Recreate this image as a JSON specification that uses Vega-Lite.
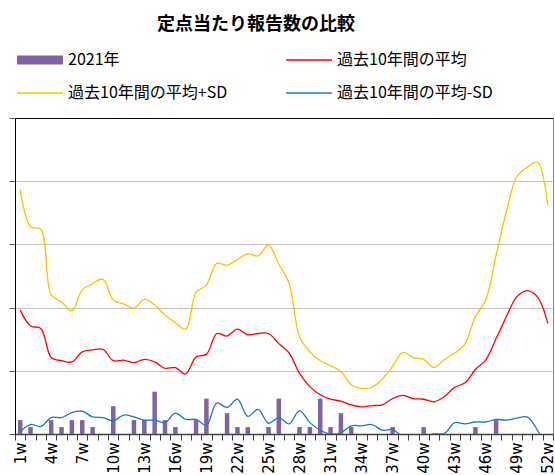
{
  "$schema": "https://vega.github.io/schema/vega-lite/v6.json",
  "width": 538,
  "height": 316,
  "autosize": "none",
  "padding": {"left": 15, "top": 118, "right": 2, "bottom": 41},
  "background": "white",
  "title": {"text": "定点当たり報告数の比較", "font": "Noto Sans CJK JP", "fontSize": 18, "fontWeight": "bold", "color": "#000000", "anchor": "middle", "dx": -28, "offset": 9},
  "config": {
    "view": {"stroke": "#8C8C8C", "strokeWidth": 1},
    "axis": {"labelFont": "DejaVu Sans", "labelColor": "#000000"},
    "legend": {
      "orient": "none", "legendX": 8, "legendY": -75, "columns": 2, "direction": "horizontal",
      "symbolSize": 1156, "symbolStrokeWidth": 0,
      "labelFont": "Noto Sans CJK JP", "labelFontSize": 16, "labelColor": "#000000", "labelOffset": 11,
      "columnPadding": 58, "rowPadding": 8, "padding": 0,
      "labelLimit": 400
    }
  },
  "data": {"values": [
    {"w": "1w", "2021年": 0.22, "過去10年間の平均": 1.96, "過去10年間の平均+SD": 3.87, "過去10年間の平均-SD": 0.04},
    {"w": "2w", "2021年": 0.11, "過去10年間の平均": 1.71, "過去10年間の平均+SD": 3.28, "過去10年間の平均-SD": 0.15},
    {"w": "3w", "2021年": null, "過去10年間の平均": 1.67, "過去10年間の平均+SD": 3.24, "過去10年間の平均-SD": 0.12},
    {"w": "4w", "2021年": 0.22, "過去10年間の平均": 1.21, "過去10年間の平均+SD": 2.20, "過去10年間の平均-SD": 0.26},
    {"w": "5w", "2021年": 0.11, "過去10年間の平均": 1.16, "過去10年間の平均+SD": 2.09, "過去10年間の平均-SD": 0.26},
    {"w": "6w", "2021年": 0.22, "過去10年間の平均": 1.14, "過去10年間の平均+SD": 1.95, "過去10年間の平均-SD": 0.34},
    {"w": "7w", "2021年": 0.22, "過去10年間の平均": 1.30, "過去10年間の平均+SD": 2.28, "過去10年間の平均-SD": 0.36},
    {"w": "8w", "2021年": 0.11, "過去10年間の平均": 1.33, "過去10年間の平均+SD": 2.38, "過去10年間の平均-SD": 0.27},
    {"w": "9w", "2021年": null, "過去10年間の平均": 1.34, "過去10年間の平均+SD": 2.45, "過去10年間の平均-SD": 0.26},
    {"w": "10w", "2021年": 0.44, "過去10年間の平均": 1.16, "過去10年間の平均+SD": 2.12, "過去10年間の平均-SD": 0.21},
    {"w": "11w", "2021年": null, "過去10年間の平均": 1.17, "過去10年間の平均+SD": 2.06, "過去10年間の平均-SD": 0.30},
    {"w": "12w", "2021年": 0.22, "過去10年間の平均": 1.13, "過去10年間の平均+SD": 1.99, "過去10年間の平均-SD": 0.27},
    {"w": "13w", "2021年": 0.22, "過去10年間の平均": 1.18, "過去10年間の平均+SD": 2.13, "過去10年間の平均-SD": 0.22},
    {"w": "14w", "2021年": 0.67, "過去10年間の平均": 1.14, "過去10年間の平均+SD": 2.04, "過去10年間の平均-SD": 0.22},
    {"w": "15w", "2021年": 0.22, "過去10年間の平均": 1.04, "過去10年間の平均+SD": 1.88, "過去10年間の平均-SD": 0.18},
    {"w": "16w", "2021年": 0.11, "過去10年間の平均": 1.05, "過去10年間の平均+SD": 1.76, "過去10年間の平均-SD": 0.33},
    {"w": "17w", "2021年": null, "過去10年間の平均": 0.95, "過去10年間の平均+SD": 1.66, "過去10年間の平均-SD": 0.23},
    {"w": "18w", "2021年": 0.22, "過去10年間の平均": 1.22, "過去10年間の平均+SD": 2.24, "過去10年間の平均-SD": 0.23},
    {"w": "19w", "2021年": 0.56, "過去10年間の平均": 1.26, "過去10年間の平均+SD": 2.36, "過去10年間の平均-SD": 0.14},
    {"w": "20w", "2021年": null, "過去10年間の平均": 1.59, "過去10年間の平均+SD": 2.70, "過去10年間の平均-SD": 0.49},
    {"w": "21w", "2021年": 0.33, "過去10年間の平均": 1.55, "過去10年間の平均+SD": 2.67, "過去10年間の平均-SD": 0.42},
    {"w": "22w", "2021年": 0.11, "過去10年間の平均": 1.66, "過去10年間の平均+SD": 2.76, "過去10年間の平均-SD": 0.55},
    {"w": "23w", "2021年": 0.11, "過去10年間の平均": 1.57, "過去10年間の平均+SD": 2.85, "過去10年間の平均-SD": 0.28},
    {"w": "24w", "2021年": null, "過去10年間の平均": 1.59, "過去10年間の平均+SD": 2.82, "過去10年間の平均-SD": 0.39},
    {"w": "25w", "2021年": 0.11, "過去10年間の平均": 1.59, "過去10年間の平均+SD": 2.99, "過去10年間の平均-SD": 0.17},
    {"w": "26w", "2021年": 0.56, "過去10年間の平均": 1.43, "過去10年間の平均+SD": 2.69, "過去10年間の平均-SD": 0.26},
    {"w": "27w", "2021年": null, "過去10年間の平均": 1.28, "過去10年間の平均+SD": 2.38, "過去10年間の平均-SD": 0.16},
    {"w": "28w", "2021年": 0.11, "過去10年間の平均": 0.96, "過去10年間の平均+SD": 1.54, "過去10年間の平均-SD": 0.37},
    {"w": "29w", "2021年": 0.11, "過去10年間の平均": 0.75, "過去10年間の平均+SD": 1.30, "過去10年間の平均-SD": 0.18},
    {"w": "30w", "2021年": 0.56, "過去10年間の平均": 0.62, "過去10年間の平均+SD": 1.16, "過去10年間の平均-SD": 0.06},
    {"w": "31w", "2021年": 0.11, "過去10年間の平均": 0.55, "過去10年間の平均+SD": 1.08, "過去10年間の平均-SD": 0.00},
    {"w": "32w", "2021年": 0.33, "過去10年間の平均": 0.52, "過去10年間の平均+SD": 0.99, "過去10年間の平均-SD": 0.02},
    {"w": "33w", "2021年": 0.11, "過去10年間の平均": 0.46, "過去10年間の平均+SD": 0.78, "過去10年間の平均-SD": 0.13},
    {"w": "34w", "2021年": null, "過去10年間の平均": 0.43, "過去10年間の平均+SD": 0.72, "過去10年間の平均-SD": 0.13},
    {"w": "35w", "2021年": null, "過去10年間の平均": 0.45, "過去10年間の平均+SD": 0.74, "過去10年間の平均-SD": 0.15},
    {"w": "36w", "2021年": null, "過去10年間の平均": 0.46, "過去10年間の平均+SD": 0.87, "過去10年間の平均-SD": 0.06},
    {"w": "37w", "2021年": 0.11, "過去10年間の平均": 0.56, "過去10年間の平均+SD": 1.07, "過去10年間の平均-SD": 0.07},
    {"w": "38w", "2021年": null, "過去10年間の平均": 0.61, "過去10年間の平均+SD": 1.29, "過去10年間の平均-SD": -0.04},
    {"w": "39w", "2021年": null, "過去10年間の平均": 0.56, "過去10年間の平均+SD": 1.21, "過去10年間の平均-SD": -0.03},
    {"w": "40w", "2021年": 0.11, "過去10年間の平均": 0.55, "過去10年間の平均+SD": 1.18, "過去10年間の平均-SD": -0.03},
    {"w": "41w", "2021年": null, "過去10年間の平均": 0.51, "過去10年間の平均+SD": 1.05, "過去10年間の平均-SD": 0.00},
    {"w": "42w", "2021年": null, "過去10年間の平均": 0.59, "過去10年間の平均+SD": 1.18, "過去10年間の平均-SD": 0.01},
    {"w": "43w", "2021年": null, "過去10年間の平均": 0.74, "過去10年間の平均+SD": 1.28, "過去10年間の平均-SD": 0.18},
    {"w": "44w", "2021年": null, "過去10年間の平均": 0.81, "過去10年間の平均+SD": 1.43, "過去10年間の平均-SD": 0.16},
    {"w": "45w", "2021年": 0.11, "過去10年間の平均": 1.02, "過去10年間の平均+SD": 1.86, "過去10年間の平均-SD": 0.19},
    {"w": "46w", "2021年": null, "過去10年間の平均": 1.17, "過去10年間の平均+SD": 2.12, "過去10年間の平均-SD": 0.19},
    {"w": "47w", "2021年": 0.22, "過去10年間の平均": 1.51, "過去10年間の平均+SD": 2.83, "過去10年間の平均-SD": 0.23},
    {"w": "48w", "2021年": null, "過去10年間の平均": 1.86, "過去10年間の平均+SD": 3.52, "過去10年間の平均-SD": 0.22},
    {"w": "49w", "2021年": null, "過去10年間の平均": 2.17, "過去10年間の平均+SD": 4.07, "過去10年間の平均-SD": 0.25},
    {"w": "50w", "2021年": null, "過去10年間の平均": 2.27, "過去10年間の平均+SD": 4.22, "過去10年間の平均-SD": 0.27},
    {"w": "51w", "2021年": null, "過去10年間の平均": 2.17, "過去10年間の平均+SD": 4.30, "過去10年間の平均-SD": 0.06},
    {"w": "52w", "2021年": null, "過去10年間の平均": 1.75, "過去10年間の平均+SD": 3.62, "過去10年間の平均-SD": -0.30}
  ]},
  "transform": [
    {"fold": ["2021年", "過去10年間の平均", "過去10年間の平均+SD", "過去10年間の平均-SD"], "as": ["series", "value"]}
  ],
  "resolve": {"axis": {"x": "independent"}},
  "layer": [
    {
      "transform": [{"filter": "datum.series === '2021年' && isValid(datum.value)"}],
      "mark": {"type": "bar", "width": 4.5},
      "encoding": {
        "x": {"field": "w", "type": "ordinal",
          "scale": {"domain": ["1w","2w","3w","4w","5w","6w","7w","8w","9w","10w","11w","12w","13w","14w","15w","16w","17w","18w","19w","20w","21w","22w","23w","24w","25w","26w","27w","28w","29w","30w","31w","32w","33w","34w","35w","36w","37w","38w","39w","40w","41w","42w","43w","44w","45w","46w","47w","48w","49w","50w","51w","52w"], "paddingInner": 0, "paddingOuter": 0},
          "axis": {"title": null, "labelAngle": -90, "labelFontSize": 15, "labelPadding": 2, "tickBand": "extent", "tickSize": 6, "tickColor": "#404040", "domainColor": "#404040", "domainWidth": 1.5, "labelExpr": "(parseInt(datum.label) - 1) % 3 === 0 ? datum.label : ''"}},
        "y": {"field": "value", "type": "quantitative",
          "scale": {"domain": [0, 5], "nice": false},
          "axis": {"title": null, "labels": false, "values": [0, 1, 2, 3, 4, 5], "grid": true, "gridColor": "#C4C4C4", "gridWidth": 1, "domainColor": "#000000", "tickColor": "#595959", "tickSize": 6}},
        "color": {"field": "series", "type": "nominal",
          "scale": {"domain": ["2021年", "過去10年間の平均", "過去10年間の平均+SD", "過去10年間の平均-SD"], "range": ["#8064A2", "#FF0000", "#FFC000", "#1878C8"]},
          "legend": {"title": null, "encode": {"symbols": {"update": {
            "shape": {"signal": "datum.value === '2021年' ? 'M-1.35,-0.27H1.35V0.27H-1.35Z' : 'M-1.35,-0.04H1.35V0.04H-1.35Z'"},
            "fill": {"scale": "color", "field": "value"},
            "fillOpacity": {"value": 1},
            "strokeWidth": {"value": 0}
          }}}}}
      }
    },
    {
      "transform": [{"filter": "datum.series !== '2021年'"}],
      "mark": {"type": "line", "interpolate": "catmull-rom", "strokeWidth": 1.3, "clip": true},
      "encoding": {
        "x": {"field": "w", "type": "ordinal",
          "axis": {"orient": "top", "title": null, "labels": false, "ticks": false, "domainColor": "#000000", "domainWidth": 1.2}},
        "y": {"field": "value", "type": "quantitative"},
        "color": {"field": "series", "type": "nominal"}
      }
    }
  ]
}
